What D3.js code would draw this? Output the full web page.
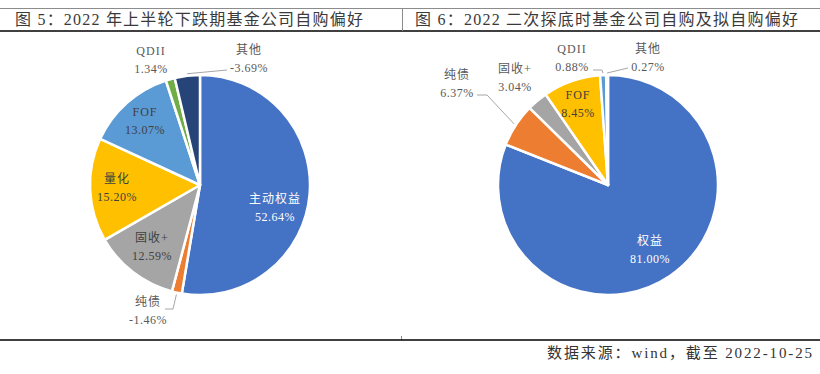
<!DOCTYPE html>
<html lang="zh">
<head>
    <meta charset="UTF-8">
    <script src="https://d3js.org/d3.v7.min.js"></script>
    <style>
        body {
            margin: 0;
            background: white;
        }
        svg text {
            font-family: "Liberation Serif", "Noto Sans CJK SC", serif;
        }
    </style>
</head>
<body>
    <svg id="chart" width="820" height="374"></svg>
    <script>
        // 图5 数据
        const leftTitle = "图 5：2022 年上半轮下跌期基金公司自购偏好";
        const leftNames = ["主动权益", "纯债", "固收+", "量化", "FOF", "QDII", "其他"];
        const leftValues = [52.64, -1.46, 12.59, 15.20, 13.07, 1.34, -3.69];
        const leftColors = ["#4472C4", "#ED7D31", "#A5A5A5", "#FFC000", "#5B9BD5", "#70AD47", "#264478"];

        // 图6 数据
        const rightTitle = "图 6：2022 二次探底时基金公司自购及拟自购偏好";
        const rightNames = ["权益", "纯债", "固收+", "FOF", "QDII", "其他"];
        const rightValues = [81.00, 6.37, 3.04, 8.45, 0.88, 0.27];
        const rightColors = ["#4472C4", "#ED7D31", "#A5A5A5", "#FFC000", "#5B9BD5", "#70AD47"];

        const sourceText = "数据来源：wind，截至 2022-10-25";

        // 标签位置 (相对饼图中心)
        const leftLabelPos = [[75, 23], [-52, 126], [-48, 62], [-83, 3], [-55, -64], [-49, -125], [49, -126]];
        const leftLabelFill = ["#fff", "#595959", "#404040", "#404040", "#404040", "#595959", "#595959"];
        const leftLeaders = { 1: [[-27, 124], [-35, 124]], 6: [[27, -115]] };

        const rightLabelPos = [[42, 65], [-151, -101], [-93, -107], [-30, -81], [-36, -127], [40, -127]];
        const rightLabelFill = ["#fff", "#595959", "#595959", "#404040", "#595959", "#595959"];
        const rightLeaders = { 1: [[-121, -90], [-131, -90]], 4: [[-6, -115], [-15, -115]], 5: [[20, -117]] };

        const svg = d3.select("#chart");

        // 表格线
        svg.append("line").attr("x1", 0).attr("x2", 820).attr("y1", 8.5).attr("y2", 8.5)
            .attr("stroke", "#8c8c8c").attr("stroke-width", 1);
        svg.append("line").attr("x1", 0).attr("x2", 820).attr("y1", 31).attr("y2", 31)
            .attr("stroke", "#000").attr("stroke-width", 1.5);
        svg.append("line").attr("x1", 402.5).attr("x2", 402.5).attr("y1", 8).attr("y2", 31)
            .attr("stroke", "#8c8c8c").attr("stroke-width", 1);
        svg.append("line").attr("x1", 401.5).attr("x2", 401.5).attr("y1", 336).attr("y2", 340)
            .attr("stroke", "#8c8c8c").attr("stroke-width", 1);
        svg.append("line").attr("x1", 0).attr("x2", 820).attr("y1", 340).attr("y2", 340)
            .attr("stroke", "#000").attr("stroke-width", 1.5);

        // 标题
        svg.append("text").attr("x", 15).attr("y", 25)
            .attr("textLength", 348).attr("lengthAdjust", "spacing")
            .style("font-size", "16px").attr("fill", "#3a3a3a")
            .text(leftTitle);
        svg.append("text").attr("x", 415).attr("y", 25)
            .attr("textLength", 383).attr("lengthAdjust", "spacing")
            .style("font-size", "16px").attr("fill", "#3a3a3a")
            .text(rightTitle);

        // 来源
        svg.append("text").attr("x", 547).attr("y", 358)
            .attr("textLength", 265).attr("lengthAdjust", "spacing")
            .style("font-size", "15px").attr("fill", "#333")
            .text(sourceText);

        function drawPie(cx, cy, r, names, values, colors, labelPos, labelFill, leaders) {
            const g = svg.append("g").attr("transform", `translate(${cx},${cy})`);

            const pie = d3.pie().sort(null).value(d => Math.abs(d));
            const arcs = pie(values);
            const arc = d3.arc().innerRadius(0).outerRadius(r);
            const edge = d3.arc().innerRadius(r + 2).outerRadius(r + 2);

            g.selectAll("path.slice")
                .data(arcs)
                .enter().append("path")
                .attr("class", "slice")
                .attr("d", arc)
                .attr("fill", (d, i) => colors[i])
                .attr("stroke", "white")
                .attr("stroke-width", 2.5)
                .attr("stroke-linejoin", "round");

            // 引导线
            Object.keys(leaders).forEach(k => {
                const i = +k;
                const pts = [edge.centroid(arcs[i])].concat(leaders[k]);
                g.append("path")
                    .attr("d", d3.line()(pts))
                    .attr("fill", "none")
                    .attr("stroke", "#a6a6a6")
                    .attr("stroke-width", 1);
            });

            // 标签
            arcs.forEach((d, i) => {
                const [lx, ly] = labelPos[i];
                g.append("text")
                    .attr("x", lx).attr("y", ly - 9)
                    .attr("text-anchor", "middle")
                    .attr("dominant-baseline", "central")
                    .style("font-size", "12px")
                    .style("letter-spacing", "1px")
                    .attr("fill", labelFill[i])
                    .text(names[i]);
                g.append("text")
                    .attr("x", lx).attr("y", ly + 9)
                    .attr("text-anchor", "middle")
                    .attr("dominant-baseline", "central")
                    .style("font-size", "12px")
                    .style("letter-spacing", "0.5px")
                    .attr("fill", labelFill[i])
                    .text(values[i].toFixed(2) + "%");
            });
        }

        drawPie(200, 185, 110, leftNames, leftValues, leftColors, leftLabelPos, leftLabelFill, leftLeaders);
        drawPie(608, 185, 110, rightNames, rightValues, rightColors, rightLabelPos, rightLabelFill, rightLeaders);
    </script>
</body>
</html>
